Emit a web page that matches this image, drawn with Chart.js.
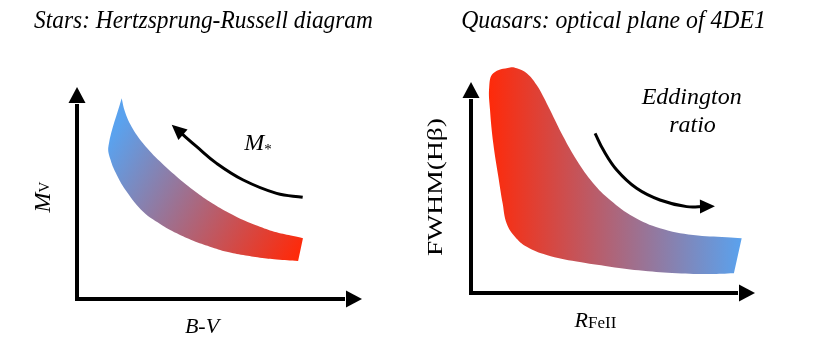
<!DOCTYPE html>
<html>
<head>
<meta charset="utf-8">
<title>Stars vs quasars</title>
<script src="https://cdn.jsdelivr.net/npm/chart.js@4/dist/chart.umd.min.js"></script>
<style>
  body { margin: 0; background: #fff; }
  #wrap { position: relative; width: 813px; height: 358px; }
  canvas { position: absolute; top: 0; }
  #hr { left: 0; }
  #qso { left: 407px; }
</style>
</head>
<body>
<div id="wrap">
  <canvas id="hr" width="407" height="358"></canvas>
  <canvas id="qso" width="406" height="358"></canvas>
</div>
<script>
// axis units: 0 = the axis line, 100 = base of the axis arrow head

// left panel - main sequence band (right-top corner, upper edge, tip, left edge, lower edge)
const hrTitle = 'Stars: Hertzsprung-Russell diagram';
const hrBandX = [84.0, 80.4, 74.2, 68.0, 61.8, 55.7, 49.4, 43.2, 37.1, 30.9, 24.6, 20.3, 17.8, 16.6,
                 16.6, 11.7, 12.5, 14.8, 18.5, 24.6, 30.9, 37.1, 43.2, 49.4, 55.7, 61.8, 68.0, 74.2, 82.2];
const hrBandY = [31.0, 32.1, 34.0, 36.9, 40.3, 44.5, 49.6, 55.6, 62.4, 70.1, 79.4, 87.9, 95.6, 102.4,
                 102.4, 78.1, 70.9, 63.3, 54.7, 44.5, 38.3, 33.5, 29.7, 26.7, 24.1, 22.4, 21.1, 20.2, 19.4];
// the M* arrow
const hrArrowX = [83.9, 74.2, 61.8, 51.9, 44.5, 38.0];
const hrArrowY = [51.9, 53.9, 60.7, 69.2, 77.7, 85.5];

// right panel - quasar main sequence (right-top corner, upper edge, top lobe, left edge, bottom edge)
const qsoTitle = 'Quasars: optical plane of 4DE1';
const qsoBandX = [101.0, 95.4, 82.9, 70.5, 60.6, 51.9, 45.6, 39.4, 34.4, 29.5, 27.0, 24.5, 20.8, 17.1, 14.6,
                  8.3, 6.8, 7.1, 8.3, 10.2, 11.8, 13.3, 16.4, 20.8, 28.2, 39.4, 51.9, 64.3, 76.8, 89.2, 98.1];
const qsoBandY = [28.1, 28.6, 29.7, 33.2, 39.1, 47.7, 56.3, 68.2, 80.2, 93.8, 100.7, 106.7, 112.7, 115.2, 115.7,
                  112.7, 105.8, 93.8, 76.8, 59.6, 46.0, 35.7, 28.9, 23.7, 19.5, 16.1, 13.5, 11.4, 10.1, 9.7, 10.1];
// the Eddington ratio arrow
const qsoArrowX = [46.3, 49.4, 54.4, 61.8, 70.5, 80.5, 87.3];
const qsoArrowY = [81.9, 73.3, 63.1, 53.7, 47.7, 44.3, 44.4];

const BLUE = '#5aa2ee';
const RED = '#fe2a0a';
const SERIF = "'Liberation Serif', 'Times New Roman', Times, serif";
const it = size => `italic ${size}px ${SERIF}`;
const rm = size => `${size}px ${SERIF}`;

const pts = (xs, ys) => xs.map((x, i) => ({ x, y: ys[i] }));

function bandGradient(context, shade) {
  const chart = context.chart;
  if (!chart.chartArea) return shade.colors[0];
  const { x, y } = chart.scales;
  const g = chart.ctx.createLinearGradient(
    x.getPixelForValue(shade.from[0]), y.getPixelForValue(shade.from[1]),
    x.getPixelForValue(shade.to[0]), y.getPixelForValue(shade.to[1]));
  g.addColorStop(0, shade.colors[0]);
  g.addColorStop(1, shade.colors[1]);
  return g;
}

function drawAxes(chart) {
  const { ctx, scales: { x, y } } = chart;
  const x0 = x.getPixelForValue(0), y0 = y.getPixelForValue(0);
  const x1 = x.getPixelForValue(100), y1 = y.getPixelForValue(100);
  ctx.save();
  ctx.strokeStyle = '#000';
  ctx.fillStyle = '#000';
  ctx.lineWidth = 4;
  ctx.lineJoin = 'miter';
  ctx.beginPath();
  ctx.moveTo(x0, y1 + 1);
  ctx.lineTo(x0, y0);
  ctx.lineTo(x1 - 1, y0);
  ctx.stroke();
  ctx.beginPath();
  ctx.moveTo(x0, y1 - 16);
  ctx.lineTo(x0 - 8.5, y1);
  ctx.lineTo(x0 + 8.5, y1);
  ctx.closePath();
  ctx.fill();
  ctx.beginPath();
  ctx.moveTo(x1 + 16, y0);
  ctx.lineTo(x1, y0 - 8.5);
  ctx.lineTo(x1, y0 + 8.5);
  ctx.closePath();
  ctx.fill();
  ctx.restore();
}

function drawArrowHead(ctx, meta) {
  const list = meta.data;
  const p = list[list.length - 1], q = list[list.length - 2];
  let dx = p.x - (p.cp1x ?? q.x), dy = p.y - (p.cp1y ?? q.y);
  const len = Math.hypot(dx, dy) || 1;
  dx /= len; dy /= len;
  ctx.save();
  ctx.fillStyle = '#000';
  ctx.beginPath();
  ctx.moveTo(p.x + dx * 10, p.y + dy * 10);
  ctx.lineTo(p.x - dx * 5 - dy * 7, p.y - dy * 5 + dx * 7);
  ctx.lineTo(p.x - dx * 5 + dy * 7, p.y - dy * 5 - dx * 7);
  ctx.closePath();
  ctx.fill();
  ctx.restore();
}

function drawLabel(ctx, item) {
  ctx.save();
  ctx.translate(item.x, item.y);
  if (item.rotate) ctx.rotate(item.rotate * Math.PI / 180);
  ctx.fillStyle = '#000';
  ctx.textAlign = 'left';
  ctx.textBaseline = 'alphabetic';
  const widths = item.parts.map(p => { ctx.font = p.font; return ctx.measureText(p.text).width; });
  const total = widths.reduce((a, b) => a + b, 0);
  // some labels in the original are stretched along the text direction
  if (item.fit) ctx.scale(item.fit / total, 1);
  let cx = -total / 2;
  item.parts.forEach((p, i) => {
    ctx.font = p.font;
    ctx.fillText(p.text, cx, p.dy || 0);
    cx += widths[i];
  });
  ctx.restore();
}

const decor = {
  id: 'decor',
  beforeDatasetsDraw(chart) {
    drawAxes(chart);
  },
  afterDatasetsDraw(chart, args, opts) {
    chart.data.datasets.forEach((ds, i) => {
      if (ds.arrow) drawArrowHead(chart.ctx, chart.getDatasetMeta(i));
    });
    (opts.labels || []).forEach(l => drawLabel(chart.ctx, l));
  }
};

function makePanel(id, p) {
  const W = document.getElementById(id).width, H = 358;
  // title is centred over [padL, W - padR]; the y scale box fills the rest up to the axis
  const padR = W - p.area.right;
  const padL = 2 * p.titleX - p.area.right;
  const yWidth = p.area.left - padL;
  return new Chart(document.getElementById(id), {
    type: 'line',
    data: {
      datasets: [
        {
          data: pts(p.bandX, p.bandY),
          fill: 'shape',
          tension: 0.4,
          borderWidth: 0,
          borderColor: 'rgba(0,0,0,0)',
          pointRadius: 0,
          capBezierPoints: false,
          clip: false,
          backgroundColor: c => bandGradient(c, p.shade)
        },
        {
          data: pts(p.arrowX, p.arrowY),
          fill: false,
          tension: 0.4,
          borderWidth: 3,
          borderColor: '#000',
          pointRadius: 0,
          capBezierPoints: false,
          clip: false,
          arrow: true
        }
      ]
    },
    options: {
      responsive: false,
      animation: false,
      events: [],
      layout: {
        autoPadding: false,
        padding: { left: padL, right: padR, top: 0, bottom: H - p.area.bottom }
      },
      scales: {
        x: {
          type: 'linear', min: 0, max: 110,
          ticks: { display: false }, grid: { display: false }, border: { display: false },
          afterFit: s => { s.height = 0; }
        },
        y: {
          type: 'linear', min: 0, max: 125,
          ticks: { display: false }, grid: { display: false }, border: { display: false },
          afterFit: s => { s.width = yWidth; }
        }
      },
      plugins: {
        legend: { display: false },
        tooltip: { enabled: false },
        title: {
          display: true,
          text: p.title,
          color: '#000',
          font: { family: SERIF, size: 24.5, style: 'italic', weight: 'normal', lineHeight: 1.2 },
          padding: { top: 7, bottom: p.area.top - 7 - 29.4 }
        },
        decor: { labels: p.labels }
      }
    },
    plugins: [decor]
  });
}

function drawAll() {
  makePanel('hr', {
    title: hrTitle,
    bandX: hrBandX, bandY: hrBandY,
    arrowX: hrArrowX, arrowY: hrArrowY,
    area: { left: 77, right: 372.9, top: 54, bottom: 299 },
    titleX: 203.5,
    shade: { from: [12.3, 81.1], to: [82.9, 25.0], colors: [BLUE, RED] },
    labels: [
      { x: 258, y: 150, parts: [{ text: 'M', font: it(24) }, { text: '*', font: rm(15), dy: 4 }] },
      { x: 50, y: 197, rotate: -90, parts: [{ text: 'M', font: it(24) }, { text: 'V', font: rm(15), dy: -1 }] },
      { x: 202, y: 333, parts: [{ text: 'B-V', font: it(22) }] }
    ]
  });

  makePanel('qso', {
    title: qsoTitle,
    bandX: qsoBandX, bandY: qsoBandY,
    arrowX: qsoArrowX, arrowY: qsoArrowY,
    area: { left: 64, right: 358.8, top: 49.25, bottom: 293 },
    titleX: 206.5,
    shade: { from: [7, 50], to: [101, 50], colors: [RED, BLUE] },
    labels: [
      { x: 284.7, y: 103.5, parts: [{ text: 'Eddington', font: it(24) }] },
      { x: 285.5, y: 131.7, parts: [{ text: 'ratio', font: it(24) }] },
      { x: 35, y: 187, rotate: -90, fit: 138, parts: [{ text: 'FWHM(Hβ)', font: rm(22) }] },
      { x: 188.5, y: 327, parts: [{ text: 'R', font: it(22) }, { text: 'FeII', font: rm(17), dy: 1 }] }
    ]
  });
}

// make sure the serif faces are ready before the canvases use them
Promise.all([it(24), rm(22)].map(f => document.fonts.load(f)))
  .catch(() => {})
  .then(drawAll);
</script>
</body>
</html>
